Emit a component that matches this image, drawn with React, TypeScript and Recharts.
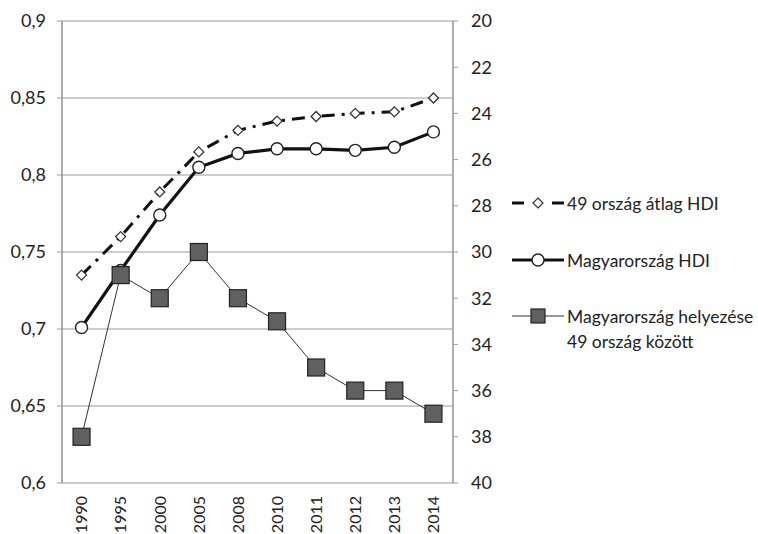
import { CartesianGrid, Legend, Line, LineChart, XAxis, YAxis } from 'recharts'

const years = ['1990', '1995', '2000', '2005', '2008', '2010', '2011', '2012', '2013', '2014']
const avgHdi = [0.735, 0.76, 0.789, 0.815, 0.829, 0.835, 0.838, 0.84, 0.841, 0.85]
const huHdi = [0.701, 0.738, 0.774, 0.805, 0.814, 0.817, 0.817, 0.816, 0.818, 0.828]
const huRank = [38, 31, 32, 30, 32, 33, 35, 36, 36, 37]

const leftTicks = [0.6, 0.65, 0.7, 0.75, 0.8, 0.85, 0.9]
const rightTicks = [20, 22, 24, 26, 28, 30, 32, 34, 36, 38, 40]
const gridTicks = [0, 1, 2, 3, 4, 5, 6, 7, 8, 9, 10]

const legendNames = ['49 ország átlag HDI', 'Magyarország HDI', 'Magyarország helyezése\n49 ország között']

const data = years.map((year, i) => ({
  year,
  avg: avgHdi[i],
  hu: huHdi[i],
  rank: huRank[i],
}))

const font = 'Lato, "Open Sans", sans-serif'
const textColor = '#222'
const gridColor = '#9a9a9a'
const tickStyle = { fill: textColor, fontSize: 18, fontFamily: font }

const formatComma = (v: number) => String(v).replace('.', ',')

function Diamond({ cx, cy }: any) {
  if (cx == null || cy == null) return null
  return (
    <path
      d={`M${cx},${cy - 5}L${cx + 5},${cy}L${cx},${cy + 5}L${cx - 5},${cy}Z`}
      fill="#fff"
      stroke="#333"
      strokeWidth={1.3}
    />
  )
}

function Circle({ cx, cy }: any) {
  if (cx == null || cy == null) return null
  return <circle cx={cx} cy={cy} r={6} fill="#fff" stroke="#222" strokeWidth={1.4} />
}

function Square({ cx, cy }: any) {
  if (cx == null || cy == null) return null
  return <rect x={cx - 8.5} y={cy - 8.5} width={17} height={17} fill="#606060" stroke="#222" strokeWidth={1.2} />
}

function YearTick({ x, y, payload }: any) {
  return (
    <text
      x={x}
      y={y + 5}
      transform={`rotate(-90, ${x}, ${y + 5})`}
      textAnchor="end"
      dy="0.36em"
      {...tickStyle}
      fontSize={16}
    >
      {payload.value}
    </text>
  )
}

function LegendSymbol({ index }: { index: number }) {
  if (index === 0) {
    return (
      <svg width={54} height={20}>
        <line x1={1} y1={10} x2={13} y2={10} stroke="#111" strokeWidth={3} />
        <line x1={41} y1={10} x2={53} y2={10} stroke="#111" strokeWidth={3} />
        <path d="M27,5L32,10L27,15L22,10Z" fill="#fff" stroke="#333" strokeWidth={1.2} />
      </svg>
    )
  }
  if (index === 1) {
    return (
      <svg width={54} height={20}>
        <line x1={1} y1={10} x2={53} y2={10} stroke="#111" strokeWidth={3} />
        <circle cx={27} cy={10} r={6} fill="#fff" stroke="#222" strokeWidth={1.4} />
      </svg>
    )
  }
  return (
    <svg width={54} height={20}>
      <line x1={1} y1={10} x2={53} y2={10} stroke="#333" strokeWidth={1} />
      <rect x={20} y={3} width={14} height={14} fill="#606060" stroke="#222" strokeWidth={1.2} />
    </svg>
  )
}

function ChartLegend() {
  const tops = [0, 57, 113]
  return (
    <div style={{ position: 'relative', width: 250, height: 160, fontFamily: font, color: textColor, fontSize: 17.5 }}>
      {legendNames.map((name, i) => (
        <div key={name} style={{ position: 'absolute', left: 0, top: tops[i], display: 'flex', alignItems: 'flex-start' }}>
          <div style={{ height: 22, display: 'flex', alignItems: 'center' }}>
            <LegendSymbol index={i} />
          </div>
          <div style={{ whiteSpace: 'pre', lineHeight: '25px', marginTop: -1.5, marginLeft: 2 }}>{name}</div>
        </div>
      ))}
    </div>
  )
}

export default function App() {
  return (
    <div style={{ position: 'absolute', left: 0, top: 0, width: 758, height: 534, background: '#fff' }}>
      <LineChart width={758} height={534} data={data} margin={{ top: 21, right: 245, bottom: 0, left: 0 }}>
        <XAxis
          xAxisId="grid"
          type="number"
          domain={[0, 10]}
          ticks={gridTicks}
          tick={false}
          height={0}
          tickSize={6}
          stroke={gridColor}
          axisLine={{ stroke: gridColor }}
          tickLine={{ stroke: gridColor }}
        />
        <XAxis
          xAxisId="cat"
          dataKey="year"
          scale="band"
          height={51}
          axisLine={false}
          tickLine={false}
          tick={<YearTick />}
          interval={0}
        />
        <YAxis
          yAxisId="left"
          domain={[0.6, 0.9]}
          ticks={leftTicks}
          width={62}
          tickFormatter={formatComma}
          tick={tickStyle}
          tickSize={5}
          tickMargin={11}
          axisLine={{ stroke: gridColor }}
          tickLine={{ stroke: gridColor }}
        />
        <YAxis
          yAxisId="right"
          orientation="right"
          domain={[20, 40]}
          reversed
          ticks={rightTicks}
          width={60}
          tick={tickStyle}
          tickSize={5}
          tickMargin={13}
          axisLine={{ stroke: gridColor }}
          tickLine={{ stroke: gridColor }}
        />
        <CartesianGrid xAxisId="grid" yAxisId="left" stroke={gridColor} strokeWidth={1.2} />
        <Legend
          layout="vertical"
          align="center"
          verticalAlign="middle"
          content={<ChartLegend />}
          wrapperStyle={{ left: 511, top: 192, width: 250 }}
        />
        <Line
          xAxisId="cat"
          yAxisId="left"
          dataKey="avg"
          name={legendNames[0]}
          stroke="#111"
          strokeWidth={3}
          strokeDasharray="13 7 3 7"
          dot={<Diamond />}
          activeDot={false}
          isAnimationActive={false}
        />
        <Line
          xAxisId="cat"
          yAxisId="left"
          dataKey="hu"
          name={legendNames[1]}
          stroke="#111"
          strokeWidth={3.2}
          dot={<Circle />}
          activeDot={false}
          isAnimationActive={false}
        />
        <Line
          xAxisId="cat"
          yAxisId="right"
          dataKey="rank"
          name={legendNames[2]}
          stroke="#333"
          strokeWidth={1}
          dot={<Square />}
          activeDot={false}
          isAnimationActive={false}
        />
      </LineChart>
    </div>
  )
}
